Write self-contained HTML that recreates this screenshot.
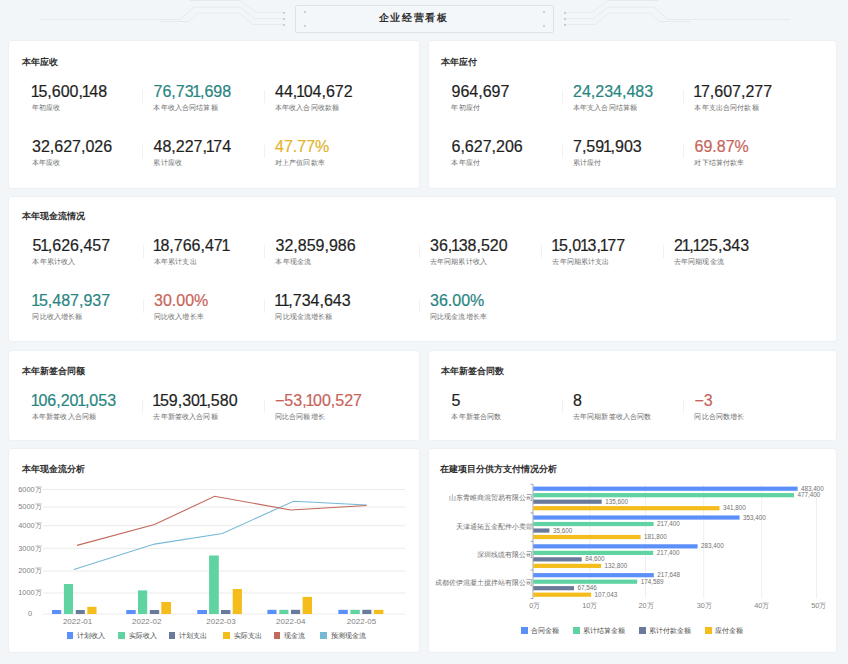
<!DOCTYPE html>
<html><head><meta charset="utf-8"><style>
*{margin:0;padding:0;box-sizing:border-box;}
html,body{width:848px;height:664px;overflow:hidden;background:#f3f6f9;font-family:"Liberation Sans",sans-serif;position:relative;}
.a{position:absolute;white-space:nowrap;line-height:1;}
.card{position:absolute;background:#fff;border-radius:2px;box-shadow:0 0 1.5px rgba(30,40,60,0.13);}
.t{font-size:9.3px;font-weight:700;color:#303030;}
.n{font-size:16px;color:#1f1f1f;letter-spacing:0px;-webkit-text-stroke:0.2px currentColor;}
.o{margin-left:-1.2px;margin-right:-1.3px;}
.l{font-size:7.3px;color:#6c6c6c;letter-spacing:0.15px;}
.sep{position:absolute;width:1px;background:#f0f1f3;height:13px;}
.teal{color:#28857f;}
.yel{color:#e3b42c;}
.red{color:#c7645a;}
.ax{font-size:7.4px;color:#7f7f7f;}
.bl{font-size:6.3px;color:#727272;}
.lg{font-size:7px;color:#4a4a4a;}
</style></head><body>
<svg class="a" style="left:0;top:0" width="848" height="40" fill="none" stroke="#e6eaef" stroke-width="1">
<path d="M283.6 12.4 H256 L240 0.5 H190"/>
<path d="M283.6 18.6 H254.5 L240.5 7.2 H194 L180 19.5 H40"/>
<path d="M283.6 24.4 H252.5 L239.5 13 H198 L188 21.5 H160"/>
<path d="M564.4 12.4 H592 L608 0.5 H658"/>
<path d="M564.4 18.6 H593.5 L607.5 7.2 H654 L668 19.5 H790"/>
<path d="M564.4 24.4 H595.5 L608.5 13 H650 L660 21.5 H690"/>
</svg>
<div class="a" style="left:294.5px;top:5px;width:259px;height:28px;border:1px solid #dde2e8;border-radius:2px;background:#f4f7fa"></div>
<div class="a" style="left:282.5px;top:11.5px;width:2px;height:2px;border-radius:1px;background:#bcc3cb"></div>
<div class="a" style="left:282.5px;top:17.5px;width:2px;height:2px;border-radius:1px;background:#bcc3cb"></div>
<div class="a" style="left:282.5px;top:23.5px;width:2px;height:2px;border-radius:1px;background:#bcc3cb"></div>
<div class="a" style="left:563.5px;top:11.5px;width:2px;height:2px;border-radius:1px;background:#bcc3cb"></div>
<div class="a" style="left:563.5px;top:17.5px;width:2px;height:2px;border-radius:1px;background:#bcc3cb"></div>
<div class="a" style="left:563.5px;top:23.5px;width:2px;height:2px;border-radius:1px;background:#bcc3cb"></div>
<div class="a" style="left:303.5px;top:10.5px;width:2px;height:2px;border-radius:1px;background:#bcc3cb"></div>
<div class="a" style="left:303.5px;top:24.5px;width:2px;height:2px;border-radius:1px;background:#bcc3cb"></div>
<div class="a" style="left:542.5px;top:10.5px;width:2px;height:2px;border-radius:1px;background:#bcc3cb"></div>
<div class="a" style="left:542.5px;top:24.5px;width:2px;height:2px;border-radius:1px;background:#bcc3cb"></div>
<div class="a t" style="left:378.5px;top:13.2px;font-size:10px;font-weight:600;color:#303030;letter-spacing:1.7px">企业经营看板</div>
<div class="card" style="left:9px;top:41px;width:410px;height:147px"></div>
<div class="card" style="left:429px;top:41px;width:407px;height:147px"></div>
<div class="card" style="left:9px;top:197px;width:827px;height:144px"></div>
<div class="card" style="left:9px;top:351px;width:410px;height:89px"></div>
<div class="card" style="left:429px;top:351px;width:407px;height:89px"></div>
<div class="card" style="left:9px;top:449px;width:410px;height:203px"></div>
<div class="card" style="left:429px;top:449px;width:407px;height:203px"></div>
<div class="a t" style="left:21.5px;top:58px;">本年应收</div>
<div class="a n " style="left:32px;top:83.8px;"><span class="o">1</span>5,600,<span class="o">1</span>48</div>
<div class="a l" style="left:31.9px;top:103.5px;">年初应收</div>
<div class="sep" style="left:142.2px;top:90px"></div>
<div class="a n teal" style="left:153.5px;top:83.8px;">76,73<span class="o">1</span>,698</div>
<div class="a l" style="left:153.4px;top:103.5px;">本年收入合同结算额</div>
<div class="sep" style="left:263.7px;top:90px"></div>
<div class="a n " style="left:275px;top:83.8px;">44,<span class="o">1</span>04,672</div>
<div class="a l" style="left:274.9px;top:103.5px;">本年收入合同收款额</div>
<div class="a n " style="left:32px;top:138.8px;">32,627,026</div>
<div class="a l" style="left:31.9px;top:158.5px;">本年应收</div>
<div class="sep" style="left:142.2px;top:145px"></div>
<div class="a n " style="left:153.5px;top:138.8px;">48,227,<span class="o">1</span>74</div>
<div class="a l" style="left:153.4px;top:158.5px;">累计应收</div>
<div class="sep" style="left:263.7px;top:145px"></div>
<div class="a n yel" style="left:275px;top:138.8px;">47.77%</div>
<div class="a l" style="left:274.9px;top:158.5px;">对上产值回款率</div>
<div class="a t" style="left:440.7px;top:58px;">本年应付</div>
<div class="a n " style="left:451.5px;top:83.8px;">964,697</div>
<div class="a l" style="left:451.4px;top:103.5px;">年初应付</div>
<div class="sep" style="left:561.7px;top:90px"></div>
<div class="a n teal" style="left:573px;top:83.8px;">24,234,483</div>
<div class="a l" style="left:572.9px;top:103.5px;">本年支入合同结算额</div>
<div class="sep" style="left:683.2px;top:90px"></div>
<div class="a n " style="left:694.5px;top:83.8px;"><span class="o">1</span>7,607,277</div>
<div class="a l" style="left:694.4px;top:103.5px;">本年支出合同付款额</div>
<div class="a n " style="left:451.5px;top:138.8px;">6,627,206</div>
<div class="a l" style="left:451.4px;top:158.5px;">本年应付</div>
<div class="sep" style="left:561.7px;top:145px"></div>
<div class="a n " style="left:573px;top:138.8px;">7,59<span class="o">1</span>,903</div>
<div class="a l" style="left:572.9px;top:158.5px;">累计应付</div>
<div class="sep" style="left:683.2px;top:145px"></div>
<div class="a n red" style="left:694.5px;top:138.8px;">69.87%</div>
<div class="a l" style="left:694.4px;top:158.5px;">对下结算付款率</div>
<div class="a t" style="left:21.5px;top:212px;">本年现金流情况</div>
<div class="a n " style="left:32.5px;top:238.3px;">5<span class="o">1</span>,626,457</div>
<div class="a l" style="left:32.4px;top:258.0px;">本年累计收入</div>
<div class="sep" style="left:142.7px;top:244.5px"></div>
<div class="a n " style="left:154px;top:238.3px;"><span class="o">1</span>8,766,47<span class="o">1</span></div>
<div class="a l" style="left:153.9px;top:258.0px;">本年累计支出</div>
<div class="sep" style="left:264.2px;top:244.5px"></div>
<div class="a n " style="left:275.5px;top:238.3px;">32,859,986</div>
<div class="a l" style="left:275.4px;top:258.0px;">本年现金流</div>
<div class="sep" style="left:418.7px;top:244.5px"></div>
<div class="a n " style="left:430px;top:238.3px;">36,<span class="o">1</span>38,520</div>
<div class="a l" style="left:429.9px;top:258.0px;">去年同期累计收入</div>
<div class="sep" style="left:541.2px;top:244.5px"></div>
<div class="a n " style="left:552.5px;top:238.3px;"><span class="o">1</span>5,0<span class="o">1</span>3,<span class="o">1</span>77</div>
<div class="a l" style="left:552.4px;top:258.0px;">去年同期累计支出</div>
<div class="sep" style="left:662.7px;top:244.5px"></div>
<div class="a n " style="left:674px;top:238.3px;">2<span class="o">1</span>,<span class="o">1</span>25,343</div>
<div class="a l" style="left:673.9px;top:258.0px;">去年同期现金流</div>
<div class="a n teal" style="left:32.5px;top:293.3px;"><span class="o">1</span>5,487,937</div>
<div class="a l" style="left:32.4px;top:313.0px;">同比收入增长额</div>
<div class="sep" style="left:142.7px;top:299.5px"></div>
<div class="a n red" style="left:154px;top:293.3px;">30.00%</div>
<div class="a l" style="left:153.9px;top:313.0px;">同比收入增长率</div>
<div class="sep" style="left:264.2px;top:299.5px"></div>
<div class="a n " style="left:275.5px;top:293.3px;"><span class="o">1</span><span class="o">1</span>,734,643</div>
<div class="a l" style="left:275.4px;top:313.0px;">同比现金流增长额</div>
<div class="sep" style="left:418.7px;top:299.5px"></div>
<div class="a n teal" style="left:430px;top:293.3px;">36.00%</div>
<div class="a l" style="left:429.9px;top:313.0px;">同比现金流增长率</div>
<div class="a t" style="left:21.5px;top:367px;">本年新签合同额</div>
<div class="a n teal" style="left:32px;top:393.3px;"><span class="o">1</span>06,20<span class="o">1</span>,053</div>
<div class="a l" style="left:31.9px;top:413.0px;">本年新签收入合同额</div>
<div class="sep" style="left:142.2px;top:399.5px"></div>
<div class="a n " style="left:153.5px;top:393.3px;"><span class="o">1</span>59,30<span class="o">1</span>,580</div>
<div class="a l" style="left:153.4px;top:413.0px;">去年新签收入合同额</div>
<div class="sep" style="left:263.7px;top:399.5px"></div>
<div class="a n red" style="left:275px;top:393.3px;">&minus;53,<span class="o">1</span>00,527</div>
<div class="a l" style="left:274.9px;top:413.0px;">同比合同额增长</div>
<div class="a t" style="left:440.7px;top:367px;">本年新签合同数</div>
<div class="a n " style="left:451.5px;top:393.3px;">5</div>
<div class="a l" style="left:451.4px;top:413.0px;">本年新签合同数</div>
<div class="sep" style="left:561.7px;top:399.5px"></div>
<div class="a n " style="left:573px;top:393.3px;">8</div>
<div class="a l" style="left:572.9px;top:413.0px;">去年同期新签收入合同数</div>
<div class="sep" style="left:683.2px;top:399.5px"></div>
<div class="a n red" style="left:694.5px;top:393.3px;">&minus;3</div>
<div class="a l" style="left:694.4px;top:413.0px;">同比合同数增长</div>
<div class="a t" style="left:21.5px;top:465px;">本年现金流分析</div>
<svg class="a" style="left:0;top:0" width="848" height="664">
<line x1="43" y1="489.5" x2="405" y2="489.5" stroke="#ebebeb" stroke-width="1"/>
<line x1="43" y1="507" x2="405" y2="507" stroke="#ebebeb" stroke-width="1"/>
<line x1="43" y1="525.7" x2="405" y2="525.7" stroke="#ebebeb" stroke-width="1"/>
<line x1="43" y1="548.3" x2="405" y2="548.3" stroke="#ebebeb" stroke-width="1"/>
<line x1="43" y1="571" x2="405" y2="571" stroke="#ebebeb" stroke-width="1"/>
<line x1="43" y1="593" x2="405" y2="593" stroke="#ebebeb" stroke-width="1"/>
<line x1="43" y1="614" x2="405" y2="614" stroke="#ebebeb" stroke-width="1"/>
<rect x="52" y="610" width="9.2" height="4.0" fill="#5b8ff9"/>
<rect x="63.9" y="584" width="9.1" height="30.0" fill="#5fd3a1"/>
<rect x="75.8" y="610" width="9.0" height="4.0" fill="#6a7a9a"/>
<rect x="87.3" y="606.8" width="9.2" height="7.2" fill="#f4bd1b"/>
<rect x="126.3" y="610" width="9.4" height="4.0" fill="#5b8ff9"/>
<rect x="138" y="590.4" width="9.2" height="23.6" fill="#5fd3a1"/>
<rect x="149.8" y="610" width="9.4" height="4.0" fill="#6a7a9a"/>
<rect x="161.3" y="602" width="9.7" height="12.0" fill="#f4bd1b"/>
<rect x="197.3" y="610" width="9.7" height="4.0" fill="#5b8ff9"/>
<rect x="209.1" y="555.5" width="9.7" height="58.5" fill="#5fd3a1"/>
<rect x="221" y="610" width="9.4" height="4.0" fill="#6a7a9a"/>
<rect x="232.7" y="589" width="9.2" height="25.0" fill="#f4bd1b"/>
<rect x="267.4" y="609.8" width="9.1" height="4.2" fill="#5b8ff9"/>
<rect x="279.3" y="609.8" width="9.1" height="4.2" fill="#5fd3a1"/>
<rect x="291" y="609.8" width="9.1" height="4.2" fill="#6a7a9a"/>
<rect x="302.6" y="596.9" width="9.4" height="17.1" fill="#f4bd1b"/>
<rect x="338.4" y="609.8" width="9.4" height="4.2" fill="#5b8ff9"/>
<rect x="350.4" y="609.8" width="9.4" height="4.2" fill="#5fd3a1"/>
<rect x="362.3" y="609.8" width="9.1" height="4.2" fill="#6a7a9a"/>
<rect x="373.9" y="609.8" width="9.5" height="4.2" fill="#f4bd1b"/>
<polyline fill="none" stroke="#76b9d6" stroke-width="1.1" points="73.8,569.6 154.5,544.1 222.4,533.5 293.6,501.2 366.7,505"/>
<polyline fill="none" stroke="#c2695b" stroke-width="1.1" points="77,545.4 154.5,524.6 214.6,496.3 290.8,510 366.7,505.5"/>
</svg>
<div class="a ax" style="right:806.4px;top:485.7px">6000万</div>
<div class="a ax" style="right:806.4px;top:503.2px">5000万</div>
<div class="a ax" style="right:806.4px;top:521.9000000000001px">4000万</div>
<div class="a ax" style="right:806.4px;top:544.5px">3000万</div>
<div class="a ax" style="right:806.4px;top:567.2px">2000万</div>
<div class="a ax" style="right:806.4px;top:589.2px">1000万</div>
<div class="a ax" style="left:28px;top:610.2px">0</div>
<div class="a ax" style="left:57.599999999999994px;width:40px;text-align:center;top:617.6px;font-size:8px">2022-01</div>
<div class="a ax" style="left:126.69999999999999px;width:40px;text-align:center;top:617.6px;font-size:8px">2022-02</div>
<div class="a ax" style="left:201px;width:40px;text-align:center;top:617.6px;font-size:8px">2022-03</div>
<div class="a ax" style="left:270.8px;width:40px;text-align:center;top:617.6px;font-size:8px">2022-04</div>
<div class="a ax" style="left:341.5px;width:40px;text-align:center;top:617.6px;font-size:8px">2022-05</div>
<div class="a" style="left:66.8px;top:632.2px;width:6.6px;height:6.5px;background:#5b8ff9"></div>
<div class="a lg" style="left:77.3px;top:631.5px">计划收入</div>
<div class="a" style="left:118px;top:632.2px;width:6.6px;height:6.5px;background:#5fd3a1"></div>
<div class="a lg" style="left:128.5px;top:631.5px">实际收入</div>
<div class="a" style="left:168.9px;top:632.2px;width:6.6px;height:6.5px;background:#6a7a9a"></div>
<div class="a lg" style="left:179.4px;top:631.5px">计划支出</div>
<div class="a" style="left:223.2px;top:632.2px;width:6.6px;height:6.5px;background:#f4bd1b"></div>
<div class="a lg" style="left:233.7px;top:631.5px">实际支出</div>
<div class="a" style="left:273.9px;top:632.2px;width:6.6px;height:6.5px;background:#c2695b"></div>
<div class="a lg" style="left:284.4px;top:631.5px">现金流</div>
<div class="a" style="left:320px;top:632.2px;width:6.6px;height:6.5px;background:#76b9d6"></div>
<div class="a lg" style="left:330.5px;top:631.5px">预测现金流</div>
<div class="a t" style="left:439.5px;top:465px;">在建项目分供方支付情况分析</div>
<svg class="a" style="left:0;top:0" width="848" height="664">
<line x1="590" y1="484" x2="590" y2="598.5" stroke="#efefef" stroke-width="1"/>
<line x1="645.5" y1="484" x2="645.5" y2="598.5" stroke="#efefef" stroke-width="1"/>
<line x1="703.7" y1="484" x2="703.7" y2="598.5" stroke="#efefef" stroke-width="1"/>
<line x1="761.7" y1="484" x2="761.7" y2="598.5" stroke="#efefef" stroke-width="1"/>
<line x1="816.6" y1="484" x2="816.6" y2="598.5" stroke="#efefef" stroke-width="1"/>
<line x1="533" y1="484.3" x2="533" y2="598.5" stroke="#8d93a3" stroke-width="0.8"/>
<line x1="530.5" y1="484.3" x2="533" y2="484.3" stroke="#8d93a3" stroke-width="0.8"/>
<line x1="530.5" y1="512.9" x2="533" y2="512.9" stroke="#8d93a3" stroke-width="0.8"/>
<line x1="530.5" y1="541.4" x2="533" y2="541.4" stroke="#8d93a3" stroke-width="0.8"/>
<line x1="530.5" y1="570.0" x2="533" y2="570.0" stroke="#8d93a3" stroke-width="0.8"/>
<line x1="530.5" y1="598.5" x2="533" y2="598.5" stroke="#8d93a3" stroke-width="0.8"/>
<rect x="533.3" y="486.60" width="264.3" height="4.2" fill="#5b8ff9"/>
<rect x="533.3" y="493.10" width="260.7" height="4.2" fill="#5fd3a1"/>
<rect x="533.3" y="499.60" width="68.4" height="4.2" fill="#6a7a9a"/>
<rect x="533.3" y="506.10" width="186.2" height="4.2" fill="#f4bd1b"/>
<rect x="533.3" y="515.43" width="206.3" height="4.2" fill="#5b8ff9"/>
<rect x="533.3" y="521.93" width="120.3" height="4.2" fill="#5fd3a1"/>
<rect x="533.3" y="528.43" width="16.1" height="4.2" fill="#6a7a9a"/>
<rect x="533.3" y="534.93" width="107.3" height="4.2" fill="#f4bd1b"/>
<rect x="533.3" y="544.26" width="164.3" height="4.2" fill="#5b8ff9"/>
<rect x="533.3" y="550.76" width="119.9" height="4.2" fill="#5fd3a1"/>
<rect x="533.3" y="557.26" width="48.4" height="4.2" fill="#6a7a9a"/>
<rect x="533.3" y="563.76" width="67.8" height="4.2" fill="#f4bd1b"/>
<rect x="533.3" y="573.09" width="120.5" height="4.2" fill="#5b8ff9"/>
<rect x="533.3" y="579.59" width="103.9" height="4.2" fill="#5fd3a1"/>
<rect x="533.3" y="586.09" width="40.7" height="4.2" fill="#6a7a9a"/>
<rect x="533.3" y="592.59" width="57.8" height="4.2" fill="#f4bd1b"/>
</svg>
<div class="a bl" style="left:801.1px;top:485.7px">483,400</div>
<div class="a bl" style="left:797.5px;top:492.2px">477,400</div>
<div class="a bl" style="left:605.2px;top:498.7px">135,600</div>
<div class="a bl" style="left:723.0px;top:505.2px">341,800</div>
<div class="a bl" style="left:743.1px;top:514.5px">353,400</div>
<div class="a bl" style="left:657.1px;top:521.0px">217,400</div>
<div class="a bl" style="left:552.9px;top:527.5px">35,600</div>
<div class="a bl" style="left:644.1px;top:534.0px">181,800</div>
<div class="a bl" style="left:701.1px;top:543.4px">283,400</div>
<div class="a bl" style="left:656.7px;top:549.9px">217,400</div>
<div class="a bl" style="left:585.2px;top:556.4px">84,600</div>
<div class="a bl" style="left:604.6px;top:562.9px">132,800</div>
<div class="a bl" style="left:657.3px;top:572.2px">217,648</div>
<div class="a bl" style="left:640.7px;top:578.7px">174,589</div>
<div class="a bl" style="left:577.5px;top:585.2px">67,546</div>
<div class="a bl" style="left:594.6px;top:591.7px">107,043</div>
<div class="a ax" style="right:315.5px;top:494.4px;color:#6e6e6e">山东青睢商混贸易有限公司</div>
<div class="a ax" style="right:315.5px;top:522.6px;color:#6e6e6e">天津通拓五金配件小卖部</div>
<div class="a ax" style="right:315.5px;top:550.9px;color:#6e6e6e">深圳线缆有限公司</div>
<div class="a ax" style="right:315.5px;top:579.1px;color:#6e6e6e">成都佐伊混凝土搅拌站有限公司</div>
<div class="a ax" style="left:514.9px;width:40px;text-align:center;top:602px;font-size:7.3px">0万</div>
<div class="a ax" style="left:569.7px;width:40px;text-align:center;top:602px;font-size:7.3px">10万</div>
<div class="a ax" style="left:626px;width:40px;text-align:center;top:602px;font-size:7.3px">20万</div>
<div class="a ax" style="left:684.3px;width:40px;text-align:center;top:602px;font-size:7.3px">30万</div>
<div class="a ax" style="left:741.7px;width:40px;text-align:center;top:602px;font-size:7.3px">40万</div>
<div class="a ax" style="left:798.7px;width:40px;text-align:center;top:602px;font-size:7.3px">50万</div>
<div class="a" style="left:521px;top:627px;width:6.8px;height:6.8px;background:#5b8ff9"></div>
<div class="a lg" style="left:530.8px;top:626.8px">合同金额</div>
<div class="a" style="left:573px;top:627px;width:6.8px;height:6.8px;background:#5fd3a1"></div>
<div class="a lg" style="left:582.8px;top:626.8px">累计结算金额</div>
<div class="a" style="left:639px;top:627px;width:6.8px;height:6.8px;background:#6a7a9a"></div>
<div class="a lg" style="left:648.8px;top:626.8px">累计付款金额</div>
<div class="a" style="left:704.75px;top:627px;width:6.8px;height:6.8px;background:#f4bd1b"></div>
<div class="a lg" style="left:714.55px;top:626.8px">应付金额</div>
</body></html>
